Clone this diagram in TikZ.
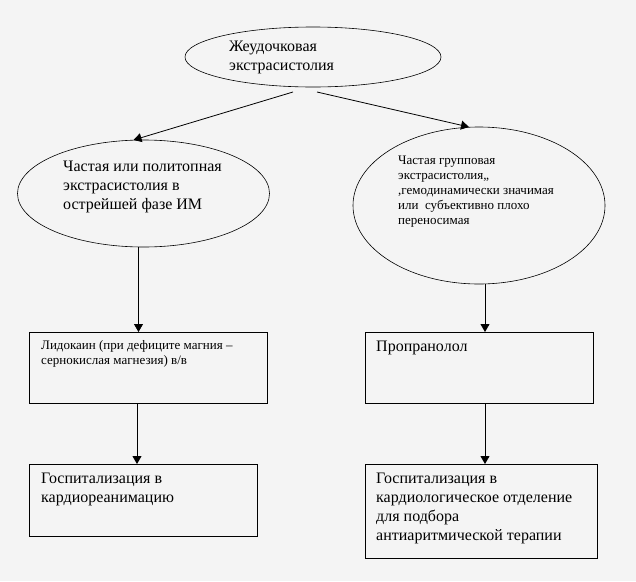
\documentclass[tikz,border=0pt]{standalone}
\usepackage{fontspec}
\setmainfont{Liberation Serif}
\usepackage{tikz}
\usetikzlibrary{shapes, arrows.meta, positioning}
\definecolor{pagebg}{HTML}{F4F4F4}

\begin{document}
\begin{tikzpicture}[x=1pt, y=-1pt,
            oval/.style={draw, ellipse, line width=0.6pt, inner sep=0pt, outer sep=0pt},
            box/.style={draw, rectangle, line width=0.8pt, inner sep=0pt, outer sep=0pt},
            txt/.style={anchor=north west, align=left, inner sep=0pt, font=\fontsize{16}{19}\selectfont},
            smalltxt/.style={anchor=north west, align=left, inner sep=0pt, font=\fontsize{13}{15}\selectfont},
            arr/.style={-{Triangle[length=8pt, width=9pt]}, line width=0.8pt}]

            \fill[pagebg] (0,0) rectangle (636,581);

            % ellipses
            \node[oval, minimum width=256, minimum height=60] (top) at (313,57) {};
            \node[oval, minimum width=252, minimum height=107] (left) at (143.5,193.5) {};
            \node[oval, minimum width=252, minimum height=157] (right) at (479,205.5) {};

            \node[txt] (toptext) at (229,41) {Жеудочковая\\экстрасистолия};
            \node[txt] (lefttext) at (63,161) {Частая или политопная\\экстрасистолия в\\острейшей фазе ИМ};
            \node[smalltxt] (righttext) at (398,156) {Частая групповая\\экстрасистолия,,\\,гемодинамически значимая\\или\ \ субъективно плохо\\переносимая};

            % boxes
            \node[box, minimum width=238, minimum height=71] (lido) at (148,367.5) {};
            \node[box, minimum width=228, minimum height=71] (prop) at (479,367.5) {};
            \node[box, minimum width=228, minimum height=72] (reanim) at (143,500) {};
            \node[box, minimum width=232, minimum height=94] (cardio) at (481,511) {};

            \node[smalltxt] (lidotext) at (41,340) {Лидокаин (при дефиците магния --\\сернокислая магнезия) в/в};
            \node[txt] (proptext) at (376,341) {Пропранолол};
            \node[txt] (reanimtext) at (41,473) {Госпитализация в\\кардиореанимацию};
            \node[txt] (cardiotext) at (376,473) {Госпитализация в\\кардиологическое отделение\\для подбора\\антиаритмической терапии};

            \coordinate (fromleft) at (293,92);
            \coordinate (fromright) at (317,92);

            \draw[arr] (fromleft) -- ([xshift=-10]left.north);
            \draw[arr] (fromright) -- ([xshift=-10]right.north);
            \draw[arr] ([xshift=-5]left.south) -- ([xshift=-5]left.south |- lido.north);
            \draw[arr] ([xshift=-11]lido.south) -- ([xshift=-11]lido.south |- reanim.north);
            \draw[arr] ([xshift=6]right.south) -- ([xshift=6]right.south |- prop.north);
            \draw[arr] ([xshift=6]prop.south) -- ([xshift=6]prop.south |- cardio.north);
        \end{tikzpicture}
\end{document}
